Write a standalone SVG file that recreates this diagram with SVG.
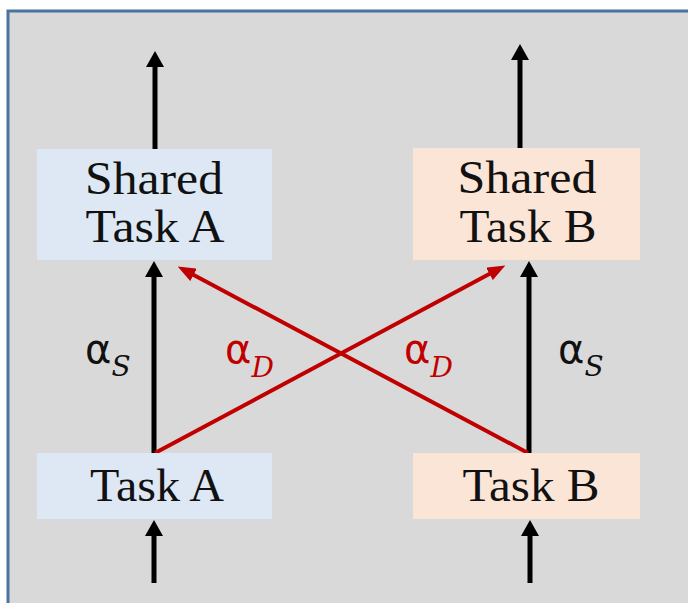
<svg xmlns="http://www.w3.org/2000/svg" width="688" height="603" viewBox="0 0 688 603">
<defs>
<style>
.box-a{fill:#dde8f4}
.box-b{fill:#fbe5d7}
.lbl{font-family:"Liberation Serif","Times New Roman",serif;font-size:46px;fill:#111;text-anchor:middle}
.blk{stroke:#000;stroke-width:5;fill:none}
.red{stroke:#c00000;stroke-width:4;fill:none}
.alpha{font-family:"DejaVu Sans","Noto Sans",sans-serif;font-size:40px}
.sub{font-family:"DejaVu Serif","Noto Sans",serif;font-style:italic;font-size:28px}
</style>
<marker id="ah" markerUnits="userSpaceOnUse" viewBox="0 0 16 18" markerWidth="16" markerHeight="18" refX="3" refY="9" orient="auto">
<path d="M0,0 L16,9 L0,18 z" fill="#000"/>
</marker>
<marker id="ahr" markerUnits="userSpaceOnUse" viewBox="0 0 18 14" markerWidth="18" markerHeight="14" refX="4" refY="7" orient="auto">
<path d="M0,0 L18,7 L0,14 z" fill="#c00000"/>
</marker>
</defs>
<rect x="0" y="0" width="688" height="603" fill="#ffffff"/>
<rect x="8" y="11" width="690" height="600" fill="#d9d9d9" stroke="#4a73a0" stroke-width="3"/>

<g id="connectors">
<line class="blk" x1="155" y1="149" x2="155" y2="64" marker-end="url(#ah)"/>
<line class="blk" x1="520" y1="148" x2="520" y2="57" marker-end="url(#ah)"/>
<line class="blk" x1="154" y1="453" x2="154" y2="274" marker-end="url(#ah)"/>
<line class="blk" x1="529" y1="453" x2="529" y2="274" marker-end="url(#ah)"/>
<line class="blk" x1="154" y1="583" x2="154" y2="533" marker-end="url(#ah)"/>
<line class="blk" x1="530" y1="583" x2="530" y2="533" marker-end="url(#ah)"/>
<line class="red" x1="155" y1="453" x2="493" y2="272" marker-end="url(#ahr)"/>
<line class="red" x1="528" y1="453" x2="190" y2="273" marker-end="url(#ahr)"/>
</g>

<g id="shared-task-a">
<rect class="box-a" x="37" y="149" width="235" height="111"/>
<text class="lbl" x="154" y="194" textLength="138" lengthAdjust="spacingAndGlyphs">Shared</text>
<text class="lbl" x="155" y="242" textLength="139" lengthAdjust="spacingAndGlyphs">Task A</text>
</g>
<g id="shared-task-b">
<rect class="box-b" x="413" y="148" width="227" height="112"/>
<text class="lbl" x="527" y="193" textLength="139" lengthAdjust="spacingAndGlyphs">Shared</text>
<text class="lbl" x="528" y="242" textLength="137" lengthAdjust="spacingAndGlyphs">Task B</text>
</g>
<g id="task-a">
<rect class="box-a" x="37" y="453" width="235" height="66"/>
<text class="lbl" x="157" y="501" textLength="134" lengthAdjust="spacingAndGlyphs">Task A</text>
</g>
<g id="task-b">
<rect class="box-b" x="413" y="453" width="227" height="66"/>
<text class="lbl" x="531" y="501" textLength="137" lengthAdjust="spacingAndGlyphs">Task B</text>
</g>

<g id="labels">
<text x="85" y="363" fill="#111"><tspan class="alpha">α</tspan><tspan class="sub" dy="13">S</tspan></text>
<text x="225" y="363" fill="#c00000"><tspan class="alpha">α</tspan><tspan class="sub" dy="14">D</tspan></text>
<text x="404" y="363" fill="#c00000"><tspan class="alpha">α</tspan><tspan class="sub" dy="14">D</tspan></text>
<text x="558" y="363" fill="#111"><tspan class="alpha">α</tspan><tspan class="sub" dy="13">S</tspan></text>
</g>
</svg>
